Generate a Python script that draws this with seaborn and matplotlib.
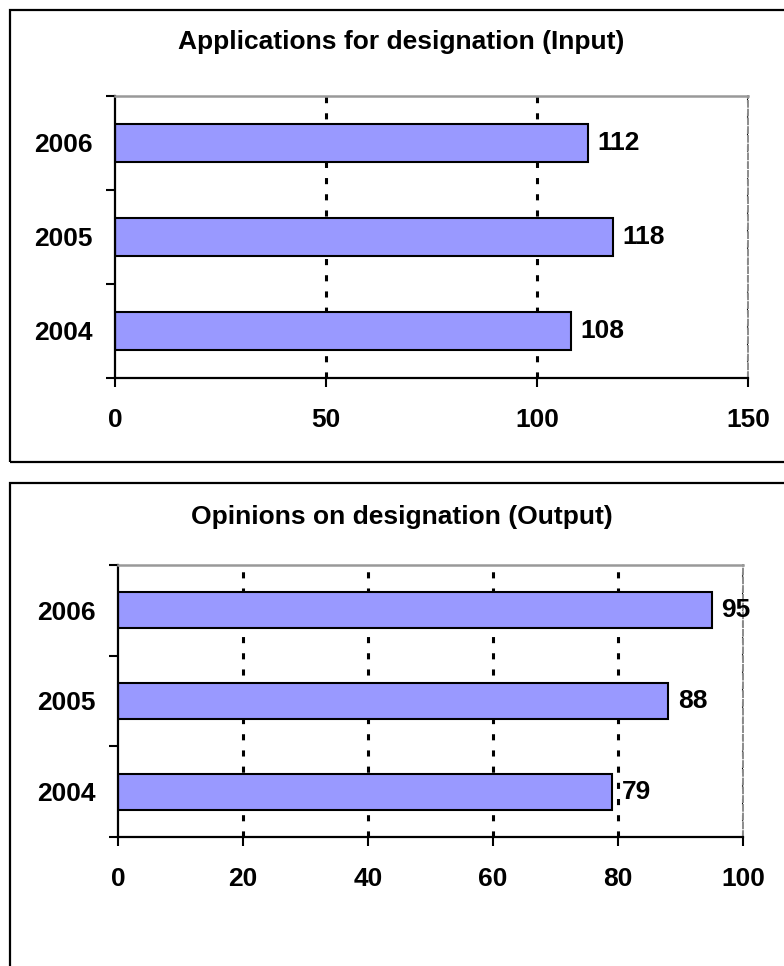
import matplotlib
matplotlib.use("Agg")
import matplotlib.pyplot as plt
from matplotlib.patches import Rectangle
from matplotlib.ticker import FixedLocator
import seaborn as sns
import pandas as pd

# Data
years = ["2006", "2005", "2004"]
applications = [112, 118, 108]
opinions = [95, 88, 79]

input_title = "Applications for designation (Input)"
output_title = "Opinions on designation (Output)"
input_xticks = [0, 50, 100, 150]
output_xticks = [0, 20, 40, 60, 80, 100]

sns.set_theme(style="white")
plt.rcParams["font.family"] = ["Liberation Sans", "DejaVu Sans"]
plt.rcParams["font.weight"] = "bold"
plt.rcParams["text.color"] = "black"
plt.rcParams["xtick.color"] = "black"
plt.rcParams["ytick.color"] = "black"
plt.rcParams["xtick.labelcolor"] = "black"
plt.rcParams["ytick.labelcolor"] = "black"

BAR_COLOR = "#9999FF"
FS = 19

fig = plt.figure(figsize=(7.84, 9.66), dpi=100)

# Outer chart frames
fig.patches.append(Rectangle((10 / 784, 1 - 462 / 966), 1.2, (462 - 10) / 966,
                             transform=fig.transFigure, fill=False,
                             edgecolor="black", lw=1.6, zorder=0))
fig.patches.append(Rectangle((10 / 784, -0.2), 1.2, 0.2 + (1 - 483 / 966),
                             transform=fig.transFigure, fill=False,
                             edgecolor="black", lw=1.6, zorder=0))


def draw_panel(ax, values, ticks, title, title_y):
    df = pd.DataFrame({"year": years, "value": values})
    sns.barplot(data=df, x="value", y="year", order=years, orient="h",
                color=BAR_COLOR, saturation=1, width=0.4,
                edgecolor="black", linewidth=1.5, ax=ax, zorder=3)
    ax.set_xlim(ticks[0], ticks[-1])
    ax.set_ylim(len(years) - 0.5, -0.5)
    ax.set_xticks(ticks)
    ax.set_xticklabels([str(t) for t in ticks], fontsize=FS, fontweight="bold",
                       color="black")
    ax.set_yticks(range(len(years)))
    ax.set_yticklabels(years, fontsize=FS, fontweight="bold", color="black")
    ax.set_xlabel("")
    ax.set_ylabel("")

    # category separators on the value axis
    ax.yaxis.set_minor_locator(FixedLocator([i - 0.5 for i in range(len(years) + 1)]))
    ax.tick_params(axis="y", which="major", length=0, pad=16)
    ax.tick_params(axis="y", which="minor", left=True, direction="out",
                   length=6.5, width=1.5, color="black")
    ax.tick_params(axis="x", which="major", bottom=True, direction="out",
                   length=6.5, width=1.5, color="black", pad=15)

    ax.xaxis.grid(True, color="black", linewidth=2.2, linestyle=(0, (2, 3.3)))
    ax.yaxis.grid(False)
    ax.set_axisbelow(True)
    # the line at zero sits under the value axis
    ax.get_xgridlines()[0].set_visible(False)

    for side in ("left", "bottom"):
        ax.spines[side].set_color("black")
        ax.spines[side].set_linewidth(1.6)
    ax.spines["top"].set_color("#999999")
    ax.spines["top"].set_linewidth(1.8)
    ax.spines["right"].set_color("#8c8c8c")
    ax.spines["right"].set_linewidth(1.4)
    ax.spines["right"].set_linestyle((0, (3, 1.5)))
    for s in ax.spines.values():
        s.set_visible(True)
        s.set_zorder(4)

    for container in ax.containers:
        ax.bar_label(container, labels=[str(v) for v in values], padding=7,
                     fontsize=FS, fontweight="bold", color="black", zorder=5)

    fig.text(0.512, title_y, title, ha="center", va="center",
             fontsize=FS, fontweight="bold", color="black")


ax_top = fig.add_axes([115 / 784, 1 - 378 / 966, (748 - 115) / 784, (378 - 96) / 966])
draw_panel(ax_top, applications, input_xticks, input_title, 1 - 42 / 966)

ax_bot = fig.add_axes([118 / 784, 1 - 837 / 966, (743 - 118) / 784, (837 - 565) / 966])
draw_panel(ax_bot, opinions, output_xticks, output_title, 1 - 517 / 966)

fig.savefig("out.png", dpi=100, facecolor="white")
